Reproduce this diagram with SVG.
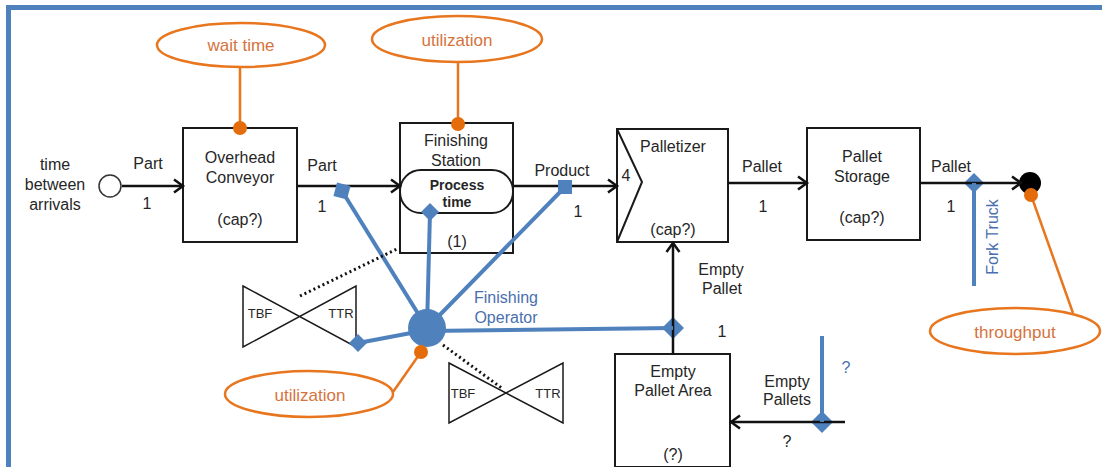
<svg xmlns="http://www.w3.org/2000/svg" width="1102" height="467" viewBox="0 0 1102 467">
  <style>
    text { font-family: "Liberation Sans", Arial, sans-serif; font-size: 16px; fill: #262626; text-anchor: middle; }
    .box { fill: #ffffff; stroke: #1a1a1a; stroke-width: 2; }
    .flow { fill: none; stroke: #111111; stroke-width: 2.5; marker-end: url(#arrow); }
    .res { fill: none; stroke: #4f81bd; stroke-width: 4; }
    .res-fill { fill: #4f81bd; }
    .stat { fill: #ffffff; stroke: #e8761e; stroke-width: 2.5; }
    .stat-line { fill: none; stroke: #e8761e; stroke-width: 2.5; }
    .stat-dot { fill: #e46c0a; }
    .stat-text { fill: #d5733d; font-size: 17px; }
    .blue-text { fill: #4a6fae; }
    .bold { font-weight: bold; font-size: 14px; }
    .small { font-size: 13px; }
    .bowtie { fill: none; stroke: #1a1a1a; stroke-width: 1.5; stroke-linejoin: miter; }
    .dotted { fill: none; stroke: #111111; stroke-width: 3; stroke-dasharray: 2 3; }
  </style>
  <defs>
    <marker id="arrow" markerUnits="userSpaceOnUse" markerWidth="16" markerHeight="16" refX="12" refY="8" orient="auto">
      <path d="M3,1.5 L12,8 L3,14.5" fill="none" stroke="#111111" stroke-width="2.5"/>
    </marker>
  </defs>

  <!-- frame -->
  <path d="M8.5,467 V7.5 H1102" fill="none" stroke="#4f81bd" stroke-width="5"/>

  <!-- arrivals source -->
  <g id="arrivals">
    <circle cx="110" cy="186" r="11" fill="#ffffff" stroke="#333333" stroke-width="1.5"/>
    <text x="55" y="170">time</text>
    <text x="55" y="190">between</text>
    <text x="55" y="210">arrivals</text>
    <text x="148" y="169">Part</text>
    <text x="147" y="209">1</text>
  </g>

  <g id="overhead-conveyor">
    <rect class="box" x="183" y="128" width="114" height="114"/>
    <text x="240" y="163">Overhead</text>
    <text x="240" y="183">Conveyor</text>
    <text x="240" y="225">(cap?)</text>
    <text x="322" y="171">Part</text>
    <text x="322" y="212">1</text>
  </g>

  <g id="finishing-station">
    <rect class="box" x="400" y="123" width="113" height="130"/>
    <text x="456" y="146">Finishing</text>
    <text x="456" y="166">Station</text>
    <rect class="box" x="400" y="170" width="113" height="43" rx="21" ry="21"/>
    <text class="bold" x="457" y="190">Process</text>
    <text class="bold" x="457" y="207">time</text>
    <text x="457" y="247">(1)</text>
    <text x="562" y="176">Product</text>
    <text x="578" y="217">1</text>
  </g>

  <g id="palletizer">
    <rect class="box" x="617" y="129" width="111" height="113"/>
    <polyline points="617,129 642,182 617,242" fill="none" stroke="#1a1a1a" stroke-width="2"/>
    <text x="626" y="181">4</text>
    <text x="673" y="152">Palletizer</text>
    <text x="673" y="235">(cap?)</text>
    <text x="762" y="172">Pallet</text>
    <text x="763" y="212">1</text>
  </g>

  <g id="pallet-storage">
    <rect class="box" x="807" y="128" width="113" height="112"/>
    <text x="862" y="162">Pallet</text>
    <text x="862" y="182">Storage</text>
    <text x="862" y="223">(cap?)</text>
    <text x="951" y="172">Pallet</text>
    <text x="951" y="212">1</text>
  </g>

  <g id="exit">
    <circle cx="1030" cy="183" r="11" fill="#000000"/>
  </g>

  <g id="fork-truck">
    <polygon class="res-fill" points="974,173 984,183 974,193 964,183"/>
    <text class="blue-text" transform="translate(998,237) rotate(-90)">Fork Truck</text>
  </g>

  <g id="empty-pallet-area">
    <rect class="box" x="615" y="354" width="115" height="113"/>
    <text x="673" y="377">Empty</text>
    <text x="673" y="396">Pallet Area</text>
    <text x="673" y="460">(?)</text>
    <text x="721" y="275">Empty</text>
    <text x="722" y="294">Pallet</text>
    <text x="722" y="337">1</text>
    <polygon class="res-fill" points="673,317 684,328 673,339 662,328"/>
  </g>

  <g id="empty-pallets-supply">
    <polygon class="res-fill" points="822,411 833,422 822,433 811,422"/>
    <text x="787" y="387">Empty</text>
    <text x="787" y="405">Pallets</text>
    <text x="787" y="447">?</text>
    <text class="blue-text" x="846" y="373">?</text>
  </g>

  <g id="operator-failure-1">
    <polygon class="bowtie" points="243,286 356,347 356,286 243,347"/>
    <text class="small" x="260" y="318">TBF</text>
    <text class="small" x="341" y="318">TTR</text>
  </g>

  <g id="operator-failure-2">
    <polygon class="bowtie" points="449,363 563,423 563,363 449,423"/>
    <text class="small" x="463" y="398">TBF</text>
    <text class="small" x="548" y="398">TTR</text>
  </g>

  <g id="stat-wait-time">
    <ellipse class="stat" cx="241" cy="45" rx="84" ry="22"/>
    <text class="stat-text" x="241" y="51">wait time</text>
  </g>

  <g id="stat-station-utilization">
    <ellipse class="stat" cx="457" cy="39" rx="85" ry="23"/>
    <text class="stat-text" x="457" y="46">utilization</text>
  </g>

  <g id="stat-operator-utilization">
    <ellipse class="stat" cx="309" cy="394" rx="84" ry="23"/>
    <text class="stat-text" x="310" y="401">utilization</text>
  </g>

  <g id="stat-throughput">
    <ellipse class="stat" cx="1015" cy="331" rx="85" ry="23"/>
    <text class="stat-text" x="1015" y="338">throughput</text>
  </g>

  <!-- connectors: material flow, resource links, failure links, statistics -->
  <g id="connectors">
    <line class="flow" x1="122" y1="186" x2="183" y2="186"/>
    <line class="flow" x1="297" y1="186" x2="400" y2="186"/>
    <line class="flow" x1="513" y1="186" x2="617" y2="186"/>
    <line class="flow" x1="728" y1="183" x2="807" y2="183"/>
    <line class="flow" x1="920" y1="183" x2="1021" y2="183"/>
    <line class="flow" x1="673" y1="354" x2="673" y2="243"/>
    <line class="flow" x1="845" y1="422" x2="731" y2="422"/>

    <!-- resource links -->
    <line class="res" x1="427" y1="328" x2="342" y2="191"/>
    <line class="res" x1="427" y1="328" x2="430" y2="212"/>
    <line class="res" x1="427" y1="328" x2="565" y2="187"/>
    <line class="res" x1="427" y1="331" x2="673" y2="328"/>
    <line class="res" x1="427" y1="330" x2="358" y2="343"/>
    <line class="res" x1="974" y1="183" x2="974" y2="286"/>
    <line class="res" x1="822" y1="336" x2="822" y2="422"/>

    <!-- failure links -->
    <line class="dotted" x1="300" y1="296" x2="399" y2="248"/>
    <line class="dotted" x1="443" y1="345" x2="503" y2="389"/>

    <!-- statistic links -->
    <line class="stat-line" x1="240" y1="67" x2="240" y2="128"/>
    <line class="stat-line" x1="458" y1="62" x2="458" y2="124"/>
    <line class="stat-line" x1="1031" y1="195" x2="1073" y2="313"/>
    <line class="stat-line" x1="421" y1="352" x2="393" y2="392"/>
  </g>

  <!-- resource and statistic markers drawn over their links -->
  <g id="finishing-operator">
    <circle class="res-fill" cx="427" cy="328" r="19"/>
    <rect class="res-fill" x="335" y="184" width="14" height="14" transform="rotate(15 342 191)"/>
    <polygon class="res-fill" points="430,203 439,212 430,221 421,212"/>
    <rect class="res-fill" x="558" y="180" width="14" height="14"/>
    <polygon class="res-fill" points="358,334 367,343 358,352 349,343"/>
    <text class="blue-text" x="506" y="303">Finishing</text>
    <text class="blue-text" x="506" y="323">Operator</text>
  </g>

  <g id="stat-points">
    <circle class="stat-dot" cx="240" cy="128" r="7"/>
    <circle class="stat-dot" cx="458" cy="124" r="7"/>
    <circle class="stat-dot" cx="421" cy="352" r="7"/>
    <circle class="stat-dot" cx="1031" cy="195" r="7"/>
  </g>
</svg>
